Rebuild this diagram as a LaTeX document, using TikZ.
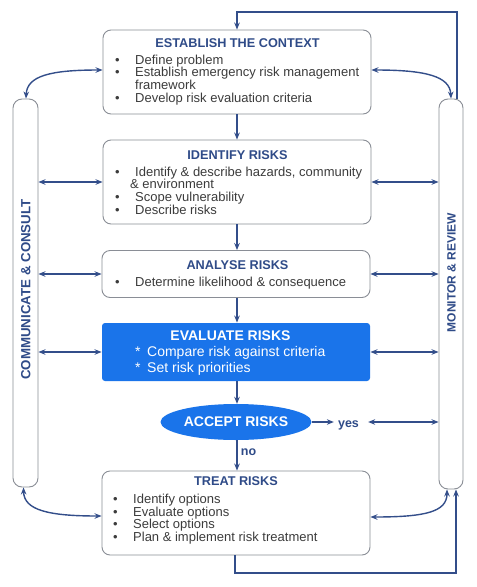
\documentclass[tikz,border=0pt]{standalone}
\usepackage{fontspec}
\setmainfont{Liberation Sans}
\usetikzlibrary{arrows.meta,calc,shapes.geometric}
\definecolor{navy}{HTML}{2F4B88}
\definecolor{bodyc}{HTML}{3C3C3C}
\definecolor{edgec}{HTML}{8A8E96}
\definecolor{arrc}{HTML}{334E8A}
\definecolor{evblue}{HTML}{1A74EA}
\newcommand\bl[1]{\hbox{\makebox[20pt][l]{•}#1}}
\newcommand\bc[2]{\hbox{\hspace*{#1}#2}}
\newcommand\stl[1]{\hbox{\makebox[12pt][l]{*}#1}}
\begin{document}
\begin{tikzpicture}[x=1pt,y=-1pt,
 box/.style={draw=edgec, line width=0.9pt, rounded corners=8pt, minimum width=268pt, inner sep=0pt},
 pillar/.style={draw=edgec, line width=0.9pt, rounded corners=9pt, inner sep=0pt},
 ttl/.style={font=\fontsize{12.7}{14}\selectfont\bfseries, text=navy, anchor=base, inner sep=0pt},
 lst/.style={font=\fontsize{13}{12.7}\selectfont, text=bodyc, anchor=base west, inner sep=0pt},
 ptxt/.style={font=\bfseries, text=navy, rotate=90, inner sep=0pt},
 arr/.style={draw=arrc, line width=1.4pt, -{Stealth[length=7pt,width=5.5pt]}},
 darr/.style={draw=arrc, line width=1.4pt, {Stealth[length=7pt,width=5.5pt]}-{Stealth[length=7pt,width=5.5pt]}},
 lbl/.style={font=\fontsize{12.5}{14}\selectfont\bfseries, text=navy, anchor=base, inner sep=0pt},
]
\fill[white] (0,0) rectangle (477,587);
\useasboundingbox (0,0) rectangle (477,587);

% pillars
\node[pillar, minimum width=25pt, minimum height=388pt] (comm) at (25.5,293) {};
\node[pillar, minimum width=24pt, minimum height=390pt] (mon) at (451,294) {};
\node[ptxt, font=\fontsize{13.3}{15}\selectfont\bfseries] (commt) at (25.7,289.5) {COMMUNICATE \& CONSULT};
\node[ptxt, font=\fontsize{12}{14}\selectfont\bfseries] (mont) at (451.5,272.5) {MONITOR \& REVIEW};

% boxes
\node[box, minimum height=84pt] (est) at (237,72) {};
\node[box, minimum height=84pt] (idf) at (237,182) {};
\node[box, minimum height=47pt] (ana) at (236,274) {};
\node[box, draw=none, fill=evblue, rounded corners=3pt, minimum height=58pt] (eva) at (236,352) {};
\node[ellipse, fill=evblue, minimum width=151pt, minimum height=36pt, inner sep=0pt, text=white,
      font=\fontsize{14}{16}\selectfont\bfseries] (acc) at (236,422) {ACCEPT RISKS};
\node[box, minimum height=84pt] (trt) at (236,513) {};

% texts
\node[ttl] (estt) at (237.5,47) {ESTABLISH THE CONTEXT};
\node[lst] (estl) at (115,64) {\vtop{\bl{Define problem}\bl{Establish emergency risk management}\bc{20pt}{framework}\bl{Develop risk evaluation criteria}}};
\node[ttl] (idft) at (237.5,159) {IDENTIFY RISKS};
\node[lst] (idfl) at (115,176) {\vtop{\bl{Identify \& describe hazards, community}\bc{15pt}{\& environment}\bl{Scope vulnerability}\bl{Describe risks}}};
\node[ttl] (anat) at (237.5,269.3) {ANALYSE RISKS};
\node[lst] (anal) at (115,286.7) {\vtop{\bl{Determine likelihood \& consequence}}};
\node[ttl, text=white, font=\fontsize{14}{16}\selectfont\bfseries] (evat) at (230.5,340.7) {EVALUATE RISKS};
\node[lst, text=white, font=\fontsize{14}{15.6}\selectfont] (eval) at (135,356.7) {\vtop{\stl{Compare risk against criteria}\stl{Set risk priorities}}};
\node[ttl] (trtt) at (236,485.7) {TREAT RISKS};
\node[lst, font=\fontsize{13}{12.8}\selectfont] (trtl) at (113,503.3) {\vtop{\bl{Identify options}\bl{Evaluate options}\bl{Select options}\bl{Plan \& implement risk treatment}}};
\node[lbl] (yes) at (348.5,427) {yes};
\node[lbl] (no) at (248.5,455.7) {no};

% main flow
\draw[arr] (est.south) -- (idf.north -| est.south);
\draw[arr] (idf.south) -- (ana.north -| idf.south);
\draw[arr] (ana.south -| idf.south) -- (eva.north -| idf.south);
\draw[arr] (eva.south -| idf.south) -- (acc.north -| idf.south);
\draw[arr] (acc.south -| idf.south) -- (trt.north -| idf.south);
\draw[arr] (acc.east) -- ($(yes.west |- acc.east)+(-4,0)$);
\draw[darr] ($(yes.east |- acc.east)+(9,0)$) -- (mon.west |- acc.east);

% side arrows
\foreach \b in {idf,ana,eva}{
  \draw[darr] (comm.east |- \b.west) -- (\b.west);
  \draw[darr] (\b.east) -- (mon.west |- \b.east);
}
% curved
\draw[darr] ($(comm.north)+(0.5,0)$) .. controls (27,76) and (50,70) .. ($(est.west)+(0,-2)$);
\draw[darr] ($(est.east)+(0,-2)$) .. controls (425,70) and (450,76) .. ($(mon.north)+(0,0)$);
\draw[darr] ($(comm.south)+(-2,0)$) .. controls (24,510) and (48,516) .. ($(trt.west)+(0,3)$);
\draw[darr] ($(trt.east)+(0,4)$) .. controls (425,517) and (447,512) .. ($(mon.south)+(-4,0)$);

% loops
\draw[arr] ($(mon.north)+(6,0)$) -- (457,12) -- (237,12) -- (est.north);
\draw[arr] (trt.south -| 235,0) -- (235,573) -- (456,573) -- ($(mon.south)+(5,0)$);
\end{tikzpicture}
\end{document}
